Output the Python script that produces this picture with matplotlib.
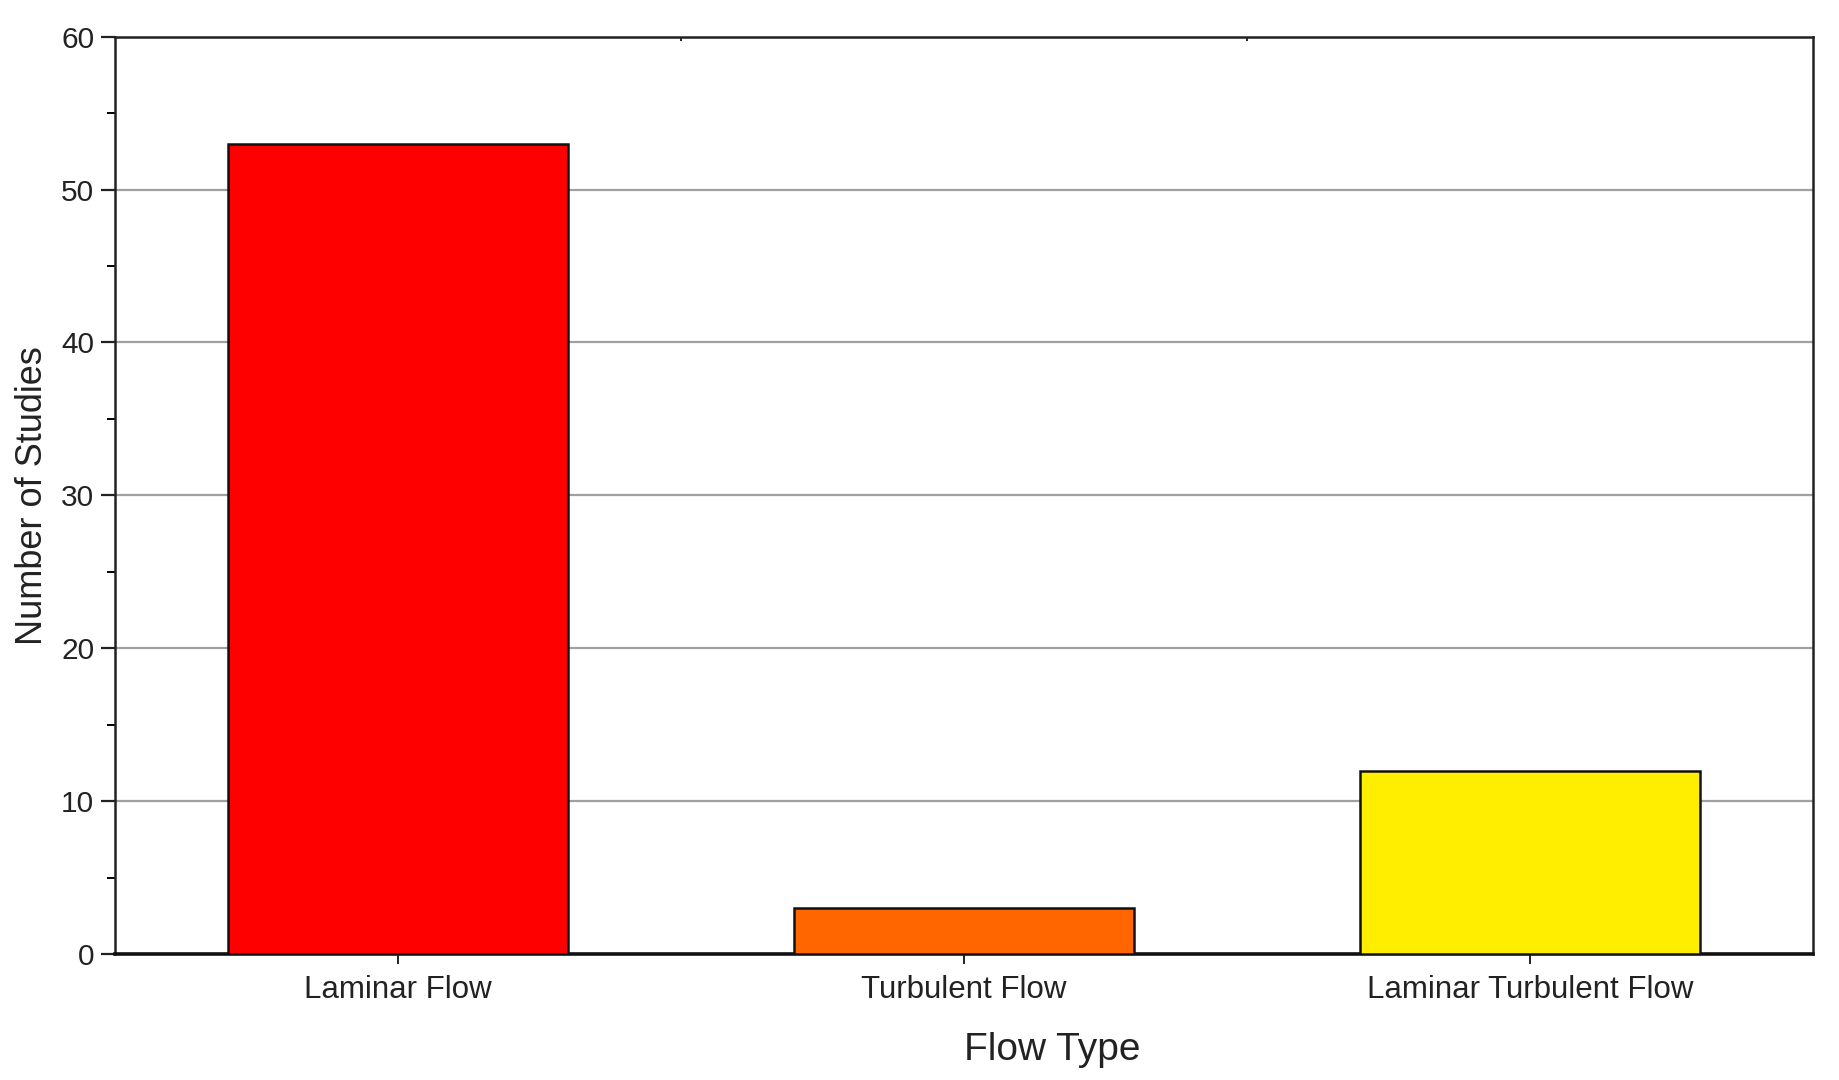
import numpy as np
import matplotlib
matplotlib.use("Agg")
import matplotlib.pyplot as plt
from matplotlib.ticker import MultipleLocator, FixedLocator

flow_types = ["Laminar Flow", "Turbulent Flow", "Laminar Turbulent Flow"]
n_studies = [53, 3, 12]
bar_colors = ["#FF0000", "#FF6600", "#FFEE00"]

plt.rcParams["font.family"] = ["Liberation Sans", "DejaVu Sans"]

fig = plt.figure(figsize=(18.4, 10.8), dpi=100)
ax = fig.add_axes([0.0625, 0.1167, 0.9228, 0.8493])

x = np.arange(len(flow_types))
ax.bar(x, n_studies, width=0.6, color=bar_colors, edgecolor="#111111",
       linewidth=1.8, zorder=3)

ax.set_xlim(-0.5, len(flow_types) - 0.5)
ax.set_ylim(0, 60)
ax.yaxis.set_major_locator(MultipleLocator(10))
ax.yaxis.set_minor_locator(MultipleLocator(5))
ax.set_xticks(x)
ax.set_xticklabels(flow_types)
ax.xaxis.set_minor_locator(FixedLocator(x[:-1] + 0.5))

ax.grid(True, axis="y", which="major", color="#A0A0A0", linewidth=1.6, zorder=0)

ax.tick_params(axis="y", which="major", direction="out", length=10, width=1.6,
               labelsize=21.5, pad=5, colors="#222222")
ax.tick_params(axis="y", which="minor", direction="out", length=6, width=1.4)
ax.tick_params(axis="x", which="major", direction="out", length=7, width=1.4,
               labelsize=22.5, pad=8, top=False, colors="#222222")
ax.tick_params(axis="x", which="minor", direction="in", length=3, width=1.2,
               top=True, bottom=False)

for side in ["top", "right", "left"]:
    ax.spines[side].set_linewidth(1.8)
    ax.spines[side].set_color("#222222")
ax.spines["bottom"].set_linewidth(2.6)
ax.spines["bottom"].set_color("#111111")

ax.set_xlabel("Flow Type", fontsize=28, labelpad=14, color="#222222")
ax.xaxis.set_label_coords(0.552, -0.085)
ax.set_ylabel("Number of Studies", fontsize=26, labelpad=8, color="#222222")

fig.savefig("out.png", dpi=100, facecolor="white")
